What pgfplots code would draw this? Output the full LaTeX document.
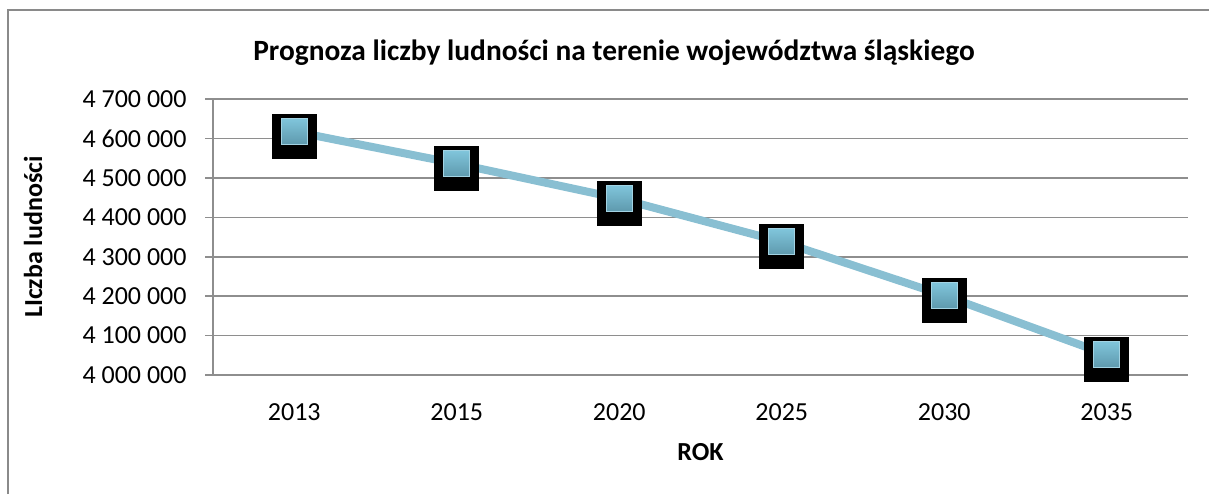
\documentclass[border=0pt]{standalone}
\usepackage{fontspec}
\setmainfont{Carlito}
\usepackage{pgfplots}
\pgfplotsset{compat=1.18}
\definecolor{gridgray}{HTML}{8E8E8E}
\definecolor{framegray}{HTML}{8A8A8A}
\definecolor{lineblue}{HTML}{89BFD2}
\definecolor{mktop}{HTML}{80C5DB}
\definecolor{mkbot}{HTML}{5E99AD}
\definecolor{mkborder}{HTML}{A3D3E3}
\begin{document}
\begin{tikzpicture}
\path[use as bounding box] (0,0) rectangle (604.5pt,247pt);
\draw[framegray, line width=1pt] (4pt,0) -- (4pt,242pt) -- (604.5pt,242pt);
\begin{axis}[
  at={(106.5pt,59.5pt)}, anchor=south west,
  scale only axis, width=487.5pt, height=138pt,
  xmin=-0.5, xmax=5.5, ymin=4000000, ymax=4700000,
  xtick={0,1,2,3,4,5},
  xticklabels={2013,2015,2020,2025,2030,2035},
  ytick={4000000,4100000,4200000,4300000,4400000,4500000,4600000,4700000},
  yticklabels={4 000 000,4 100 000,4 200 000,4 300 000,4 400 000,4 500 000,4 600 000,4 700 000},
  scaled y ticks=false,
  axis lines*=left,
  axis line style={gridgray, line width=0.8pt, -},
  ymajorgrids, grid style={gridgray, line width=0.8pt},
  xtick style={draw=none},
  ytick style={gridgray, line width=0.8pt},
  tick align=outside, major tick length=4pt,
  tick label style={font=\fontsize{13}{15}\selectfont, text=black},
  xticklabel style={anchor=north, yshift=-6.7pt},
  yticklabel style={anchor=east, xshift=-5.7pt},
  title={Prognoza liczby ludności na terenie województwa śląskiego},
  title style={font=\fontsize{14.7}{17}\selectfont\bfseries, at={(rel axis cs:0.4113,1.123)}, anchor=center},
  xlabel={ROK},
  xlabel style={font=\fontsize{13}{15}\selectfont\bfseries, at={(rel axis cs:0.5,0)}, yshift=-38.5pt, anchor=center},
  ylabel={LIczba ludności},
  ylabel style={font=\fontsize{13}{15}\selectfont\bfseries, at={(axis description cs:-0.1846,0.5)}, anchor=center},
  clip=false,
]
\pgfplotstableread{
x y
0 4617600
1 4535900
2 4447700
3 4337800
4 4201700
5 4052000
}\datatab
\addplot[only marks, mark=square*, mark size=11pt, mark options={fill=black, draw=none, yshift=-2.5pt}] table[x=x,y=y] {\datatab};
\addplot[lineblue, line width=4pt, no markers] table[x=x,y=y] {\datatab};
\addplot[scatter, only marks, mark=square, mark size=6.5pt,
  mark options={draw=mkborder, line width=0.6pt},
  scatter/@pre marker code/.code={\shade[top color=mktop, bottom color=mkbot] (-6.5pt,-6.5pt) rectangle (6.5pt,6.5pt);},
  scatter/@post marker code/.code={}] table[x=x,y=y] {\datatab};
\end{axis}
\end{tikzpicture}
\end{document}
